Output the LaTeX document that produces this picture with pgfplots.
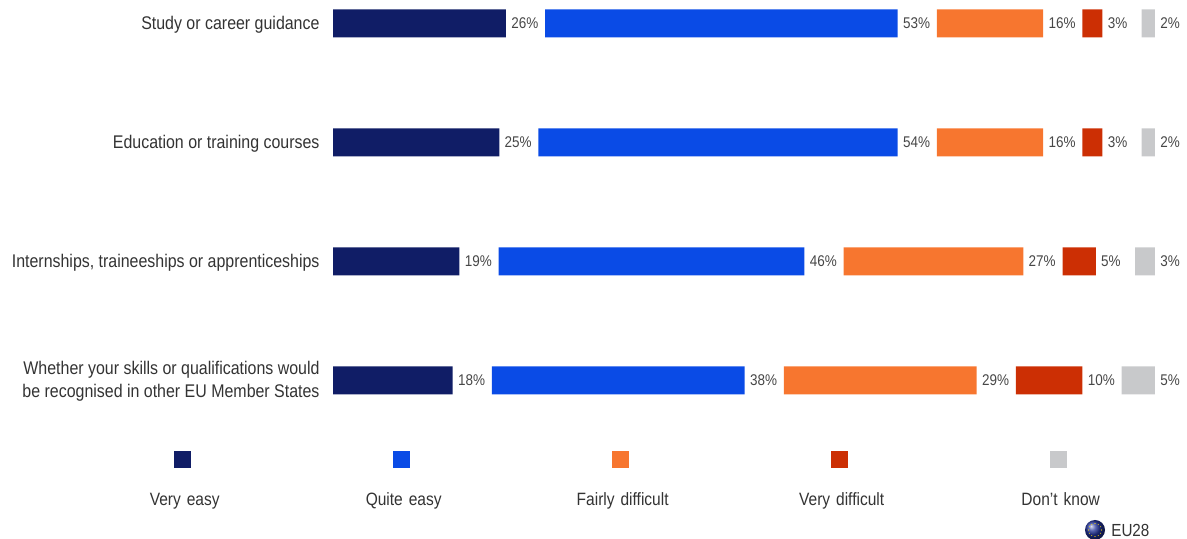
\documentclass[border=0pt]{standalone}
\usepackage{pgfplots}
\pgfplotsset{compat=1.18}
\usepackage{fontspec}
\setmainfont[FakeStretch=0.87]{Liberation Sans}
\definecolor{vEasy}{HTML}{101D66}
\definecolor{qEasy}{HTML}{0A4BE6}
\definecolor{fDiff}{HTML}{F7762F}
\definecolor{vDiff}{HTML}{CC2F04}
\definecolor{dk}{HTML}{C8C9CB}
\definecolor{txt}{HTML}{333333}
\definecolor{flagblue}{HTML}{22339A}
\pgfplotsset{
  val/.style={draw=none,fill=#1},
  gap/.style={draw=none,fill=none,forget plot,point meta=explicit,
    nodes near coords={\pgfmathprintnumber[assume math mode=true]{\pgfplotspointmeta}\%},
    every node near coord/.style={anchor=west,inner sep=0pt,xshift=-8.7pt,font=\fontsize{9.3}{12}\selectfont,text=txt!90!white}},
}
\begin{document}
\begin{tikzpicture}
\useasboundingbox (0,0) rectangle (712.2pt,323.4pt);
\begin{axis}[
  at={(199.8pt,0pt)},anchor=south west,
  scale only axis,width=512.4pt,height=323.4pt,
  xmin=0,xmax=128.42,ymin=-0.1975,ymax=4.332,y dir=reverse,
  xbar stacked,bar width=16.8pt,clip=false,
  axis line style={draw=none},major tick length=0pt,
  xtick=\empty,ytick={0,1,2,3},
  yticklabels={Study or career guidance,Education or training courses,{Internships, traineeships or apprenticeships},{Whether your skills or qualifications would\\be recognised in other EU Member States}},
  yticklabel style={align=right,inner sep=0pt,xshift=-7.9pt,yshift=-0.5pt,text=txt,font=\fontsize{11}{14}\selectfont},
  legend columns=5,
  legend style={at={(0.3392,0.0715)},anchor=center,draw=none,fill=none,inner sep=0pt,outer sep=0pt,
    nodes={text width=131.4pt,align=center,inner sep=0pt,text=txt,font=\fontsize{10.7}{13}\selectfont},
    /tikz/every even column/.append style={column sep=0pt},
    /tikz/column sep=0pt},
  legend image code/.code={\path[#1,overlay] (59.4pt,19.2pt) rectangle (69.6pt,29.4pt);},
]
\addplot[val=vEasy] coordinates {(26,0) (25,1) (19,2) (18,3)};
\addlegendentry{Very easy}
\addplot[gap] coordinates {(5.9,0)[26] (5.9,1)[25] (5.9,2)[19] (5.9,3)[18]};
\addplot[val=qEasy] coordinates {(53,0) (54,1) (46,2) (38,3)};
\addlegendentry{Quite easy}
\addplot[gap] coordinates {(5.9,0)[53] (5.9,1)[54] (5.9,2)[46] (5.9,3)[38]};
\addplot[val=fDiff] coordinates {(16,0) (16,1) (27,2) (29,3)};
\addlegendentry{Fairly difficult}
\addplot[gap] coordinates {(5.9,0)[16] (5.9,1)[16] (5.9,2)[27] (5.9,3)[29]};
\addplot[val=vDiff] coordinates {(3,0) (3,1) (5,2) (10,3)};
\addlegendentry{Very difficult}
\addplot[gap] coordinates {(5.9,0)[3] (5.9,1)[3] (5.9,2)[5] (5.9,3)[10]};
\addplot[val=dk] coordinates {(2,0) (2,1) (3,2) (5,3)};
\addlegendentry{Don{\char"0027}t know}
\addplot[gap] coordinates {(5.9,0)[2] (5.9,1)[2] (5.9,2)[3] (5.9,3)[5]};
\end{axis}
% EU28 flag
\begin{scope}[shift={(657pt,5.4pt)}]
\shade[ball color=flagblue] (0,0) circle (6pt);
\foreach \a in {0,30,...,330}{\fill[yellow!80!orange] (\a:3.9pt) circle (0.35pt);}
\end{scope}
\node[anchor=west,inner sep=0pt,text=txt,font=\fontsize{10.5}{13}\selectfont] at (666.6pt,5.2pt) {EU28};
\end{tikzpicture}
\end{document}
